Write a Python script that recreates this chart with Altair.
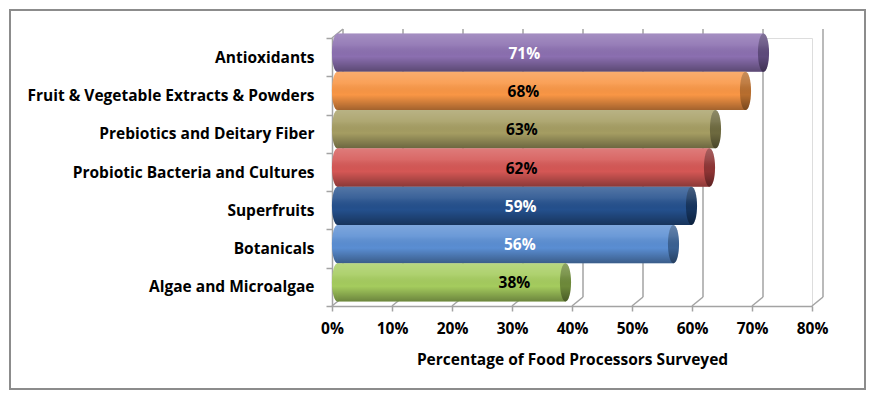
import altair as alt
import pandas as pd

categories = [
    "Antioxidants",
    "Fruit & Vegetable Extracts & Powders",
    "Prebiotics and Deitary Fiber",
    "Probiotic Bacteria and Cultures",
    "Superfruits",
    "Botanicals",
    "Algae and Microalgae",
]
values = [0.71, 0.68, 0.63, 0.62, 0.59, 0.56, 0.38]
labels = ["71%", "68%", "63%", "62%", "59%", "56%", "38%"]
bar_colors = ["#8B6FB0", "#F99645", "#A59D62", "#D55755", "#24508D", "#5A8ED3", "#A5CC5E"]
cap_colors = ["#5E4A7C", "#B86E2E", "#6E6A3F", "#8E3434", "#15345E", "#3A6193", "#6E8A3A"]
label_colors = ["white", "black", "black", "black", "white", "white", "black"]
tick_values = [0, 0.1, 0.2, 0.3, 0.4, 0.5, 0.6, 0.7, 0.8]

df = pd.DataFrame({
    "cat": categories,
    "value": values,
    "label": labels,
    "color": bar_colors,
    "cap": cap_colors,
    "lcolor": label_colors,
})
ticks_df = pd.DataFrame({"t": tick_values})

W, H = 480, 268
DX, DY = 11, -9          # depth offset of back wall
BX, BY = 5.5, -4.5       # bar offset (mid depth)
GRID = "#A3A3A3"
FONT = "Open Sans"
FS = 15.5

k = 0.5523
a = 0.29
ellipse = (
    f"M0,-1 C{k*a:.4f},-1 {a},-{k} {a},0 "
    f"C{a},{k} {k*a:.4f},1 0,1 "
    f"C-{k*a:.4f},1 -{a},{k} -{a},0 "
    f"C-{a},-{k} -{k*a:.4f},-1 0,-1 Z"
)
band = H / len(categories)
cap_size = band * band

xscale = alt.Scale(domain=[0, 0.8], nice=False)
yscale = alt.Scale(domain=categories, paddingInner=0, paddingOuter=0)

shade = alt.Gradient(
    gradient="linear",
    stops=[
        alt.GradientStop(color="rgba(255,255,255,0.22)", offset=0),
        alt.GradientStop(color="rgba(255,255,255,0.10)", offset=0.3),
        alt.GradientStop(color="rgba(0,0,0,0.0)", offset=0.6),
        alt.GradientStop(color="rgba(0,0,0,0.35)", offset=1),
    ],
    x1=0, x2=0, y1=0, y2=1,
)

base = alt.Chart(df)

Y = alt.Y(
    "cat:N",
    sort=categories,
    scale=yscale,
    title=None,
    axis=alt.Axis(
        domain=True, domainColor=GRID, domainWidth=1.5,
        ticks=True, tickBand="extent", tickSize=6, tickColor=GRID, tickWidth=1.5,
        labelFont=FONT, labelFontWeight="bold", labelFontSize=FS,
        labelColor="black", labelPadding=12, labelLimit=400, grid=False,
    ),
)
X = alt.X(
    "value:Q",
    scale=xscale,
    title="Percentage of Food Processors Surveyed",
    axis=alt.Axis(
        values=tick_values, format=".0%", grid=False,
        domain=True, domainColor=GRID, domainWidth=1.5,
        ticks=True, tickSize=5, tickColor=GRID, tickWidth=1.5,
        labelFont=FONT, labelFontWeight="bold", labelFontSize=FS,
        labelColor="black", labelPadding=10, labelFlush=False,
        titleFont=FONT, titleFontWeight="bold", titleFontSize=FS,
        titleColor="black", titlePadding=16,
    ),
)

# outer frame
frame = alt.Chart(pd.DataFrame({"f": [0]})).mark_rect(
    fillOpacity=0, stroke="#8C8C8C", strokeWidth=2
).encode(
    x=alt.value(-322), x2=alt.value(533), y=alt.value(-28), y2=alt.value(351)
)

# back wall gridlines
back_grid = alt.Chart(ticks_df).mark_rule(
    color=GRID, strokeWidth=1.5, xOffset=DX, x2Offset=DX
).encode(
    x=alt.X("t:Q", scale=xscale), y=alt.value(H + DY), y2=alt.value(DY)
)
# floor diagonals
floor_diag = alt.Chart(ticks_df).mark_rule(
    color=GRID, strokeWidth=1.5, x2Offset=DX
).encode(
    x=alt.X("t:Q", scale=xscale), x2="t:Q", y=alt.value(H), y2=alt.value(H + DY)
)
# left wall top diagonal
wall_diag = alt.Chart(pd.DataFrame({"t": [0]})).mark_rule(
    color=GRID, strokeWidth=1.5, x2Offset=DX
).encode(
    x=alt.X("t:Q", scale=xscale), x2="t:Q", y=alt.value(0), y2=alt.value(DY)
)

left_caps = base.mark_point(
    shape=ellipse, size=cap_size, filled=True, opacity=1, strokeWidth=0,
    xOffset=BX, yOffset=BY,
).encode(
    x=alt.datum(0, scale=xscale), y=alt.Y("cat:N", sort=categories, scale=yscale),
    color=alt.Color("color:N", scale=None),
)
left_shade = base.mark_point(
    shape=ellipse, size=cap_size, filled=True, opacity=1, strokeWidth=0,
    xOffset=BX, yOffset=BY, fill=shade,
).encode(
    x=alt.datum(0, scale=xscale), y=alt.Y("cat:N", sort=categories, scale=yscale),
)

bars = base.mark_bar(
    xOffset=BX, x2Offset=BX, yOffset=BY, y2Offset=BY, opacity=1
).encode(
    x=X, y=Y, color=alt.Color("color:N", scale=None)
)
bar_shade = base.mark_bar(
    xOffset=BX, x2Offset=BX, yOffset=BY, y2Offset=BY, fill=shade
).encode(
    x=alt.X("value:Q", scale=xscale), y=alt.Y("cat:N", sort=categories, scale=yscale)
)

caps = base.mark_point(
    shape=ellipse, size=cap_size, filled=True, opacity=1, strokeWidth=0,
    xOffset=BX, yOffset=BY,
).encode(
    x=alt.X("value:Q", scale=xscale), y=alt.Y("cat:N", sort=categories, scale=yscale),
    color=alt.Color("cap:N", scale=None),
)
cap_shade = base.mark_point(
    shape=ellipse, size=cap_size, filled=True, opacity=1, strokeWidth=0,
    xOffset=BX, yOffset=BY, fill=shade,
).encode(
    x=alt.X("value:Q", scale=xscale), y=alt.Y("cat:N", sort=categories, scale=yscale),
)

text = base.transform_calculate(
    pos="0.285 + 0.05 * datum.value"
).mark_text(
    font=FONT, fontWeight="bold", fontSize=15.5, yOffset=BY + 1,
).encode(
    x=alt.X("pos:Q", scale=xscale), y=alt.Y("cat:N", sort=categories, scale=yscale),
    text="label:N", color=alt.Color("lcolor:N", scale=None),
)

chart = alt.layer(
    frame, back_grid, floor_diag, wall_diag, left_caps, left_shade, bars,
    bar_shade, caps, cap_shade, text
).properties(
    width=W, height=H,
    autosize=alt.AutoSizeParams(type="none"),
    padding={"left": 324, "top": 30, "right": 55, "bottom": 85},
).configure_view(stroke=None).configure(background="white")

chart.save("out.html", embed_options={"renderer": "svg", "actions": False})
